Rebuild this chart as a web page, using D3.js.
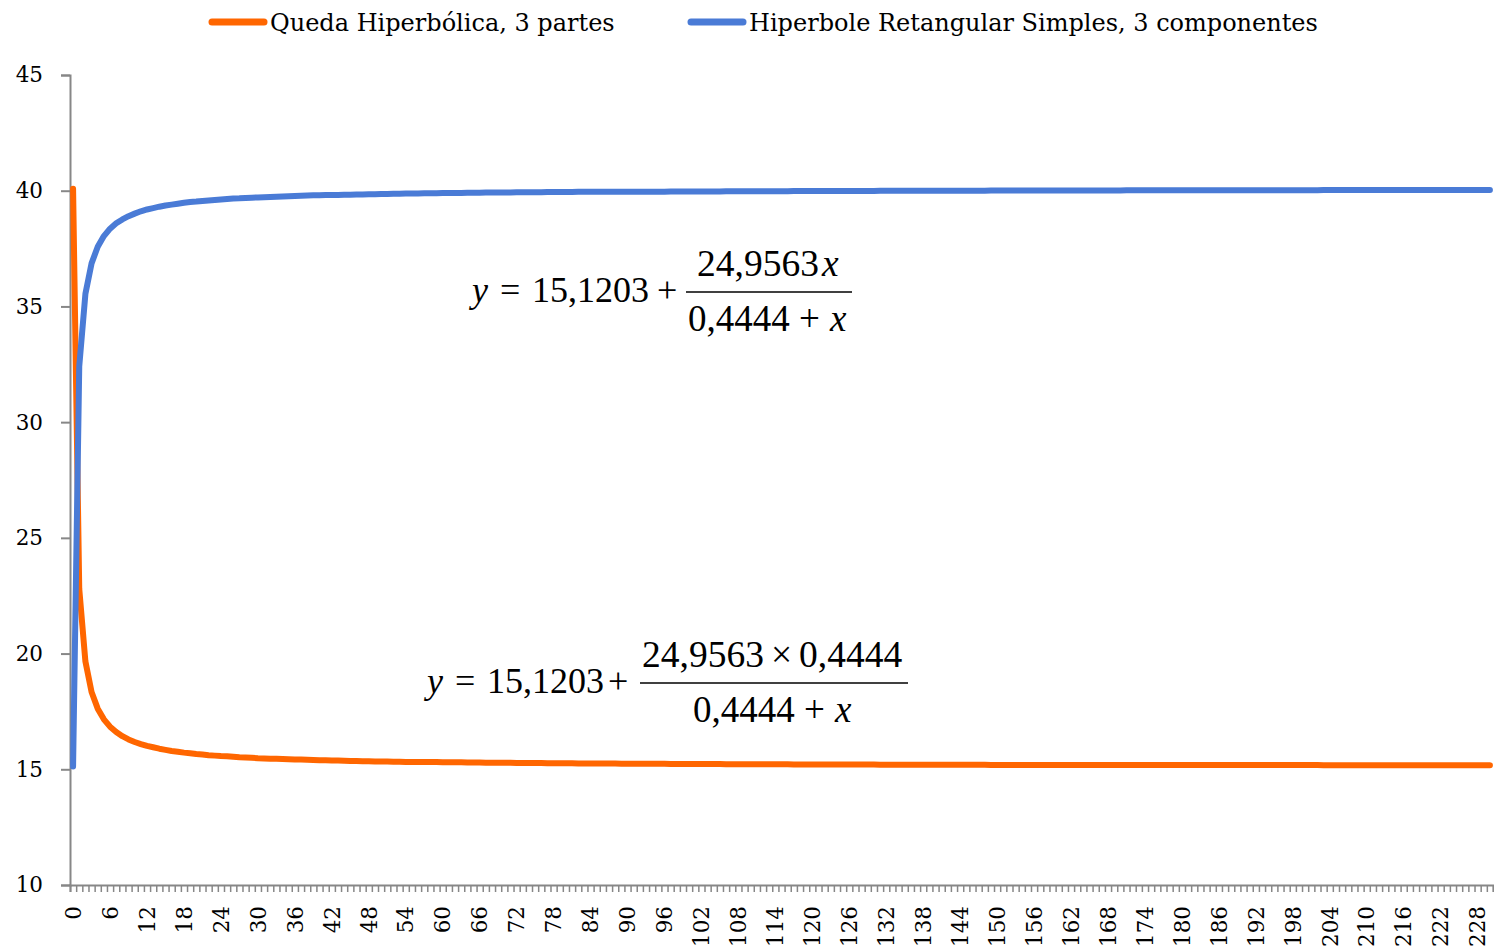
<!DOCTYPE html>
<html>
<head>
<meta charset="utf-8">
<script src="https://cdn.jsdelivr.net/npm/d3@7"></script>
<style>
  body { margin: 0; background: #fff; }
  svg { display: block; }
</style>
</head>
<body>
<svg id="graph" width="1494" height="950"></svg>
<script>
// categories 0..230
const categories = d3.range(231);

// Queda Hiperbólica
const quedaValues = [
  40.08, 22.80, 19.66, 18.34, 17.62, 17.16, 16.84, 16.61, 16.43, 16.29,
  16.18, 16.09, 16.01, 15.95, 15.89, 15.84, 15.79, 15.76, 15.72, 15.69,
  15.66, 15.64, 15.61, 15.59, 15.57, 15.56, 15.54, 15.52, 15.51, 15.50,
  15.48, 15.47, 15.46, 15.45, 15.44, 15.43, 15.42, 15.42, 15.41, 15.40,
  15.39, 15.39, 15.38, 15.38, 15.37, 15.36, 15.36, 15.35, 15.35, 15.34,
  15.34, 15.34, 15.33, 15.33, 15.32, 15.32, 15.32, 15.31, 15.31, 15.31,
  15.30, 15.30, 15.30, 15.30, 15.29, 15.29, 15.29, 15.28, 15.28, 15.28,
  15.28, 15.28, 15.27, 15.27, 15.27, 15.27, 15.27, 15.26, 15.26, 15.26,
  15.26, 15.26, 15.25, 15.25, 15.25, 15.25, 15.25, 15.25, 15.25, 15.24,
  15.24, 15.24, 15.24, 15.24, 15.24, 15.24, 15.24, 15.23, 15.23, 15.23,
  15.23, 15.23, 15.23, 15.23, 15.23, 15.23, 15.22, 15.22, 15.22, 15.22,
  15.22, 15.22, 15.22, 15.22, 15.22, 15.22, 15.22, 15.21, 15.21, 15.21,
  15.21, 15.21, 15.21, 15.21, 15.21, 15.21, 15.21, 15.21, 15.21, 15.21,
  15.21, 15.20, 15.20, 15.20, 15.20, 15.20, 15.20, 15.20, 15.20, 15.20,
  15.20, 15.20, 15.20, 15.20, 15.20, 15.20, 15.20, 15.20, 15.20, 15.19,
  15.19, 15.19, 15.19, 15.19, 15.19, 15.19, 15.19, 15.19, 15.19, 15.19,
  15.19, 15.19, 15.19, 15.19, 15.19, 15.19, 15.19, 15.19, 15.19, 15.19,
  15.19, 15.18, 15.18, 15.18, 15.18, 15.18, 15.18, 15.18, 15.18, 15.18,
  15.18, 15.18, 15.18, 15.18, 15.18, 15.18, 15.18, 15.18, 15.18, 15.18,
  15.18, 15.18, 15.18, 15.18, 15.18, 15.18, 15.18, 15.18, 15.18, 15.18,
  15.18, 15.18, 15.18, 15.17, 15.17, 15.17, 15.17, 15.17, 15.17, 15.17,
  15.17, 15.17, 15.17, 15.17, 15.17, 15.17, 15.17, 15.17, 15.17, 15.17,
  15.17, 15.17, 15.17, 15.17, 15.17, 15.17, 15.17, 15.17, 15.17, 15.17,
  15.17
];

// Hiperbole Retangular Simples
const hiperboleValues = [
  15.12, 32.40, 35.54, 36.86, 37.58, 38.04, 38.36, 38.59, 38.76, 38.90,
  39.01, 39.11, 39.19, 39.25, 39.31, 39.36, 39.40, 39.44, 39.48, 39.51,
  39.53, 39.56, 39.58, 39.60, 39.62, 39.64, 39.66, 39.67, 39.69, 39.70,
  39.71, 39.72, 39.73, 39.74, 39.75, 39.76, 39.77, 39.78, 39.79, 39.80,
  39.80, 39.81, 39.82, 39.82, 39.83, 39.83, 39.84, 39.84, 39.85, 39.85,
  39.86, 39.86, 39.87, 39.87, 39.88, 39.88, 39.88, 39.89, 39.89, 39.89,
  39.90, 39.90, 39.90, 39.90, 39.91, 39.91, 39.91, 39.92, 39.92, 39.92,
  39.92, 39.92, 39.93, 39.93, 39.93, 39.93, 39.93, 39.94, 39.94, 39.94,
  39.94, 39.94, 39.95, 39.95, 39.95, 39.95, 39.95, 39.95, 39.95, 39.96,
  39.96, 39.96, 39.96, 39.96, 39.96, 39.96, 39.96, 39.97, 39.97, 39.97,
  39.97, 39.97, 39.97, 39.97, 39.97, 39.97, 39.98, 39.98, 39.98, 39.98,
  39.98, 39.98, 39.98, 39.98, 39.98, 39.98, 39.98, 39.99, 39.99, 39.99,
  39.99, 39.99, 39.99, 39.99, 39.99, 39.99, 39.99, 39.99, 39.99, 39.99,
  39.99, 40.00, 40.00, 40.00, 40.00, 40.00, 40.00, 40.00, 40.00, 40.00,
  40.00, 40.00, 40.00, 40.00, 40.00, 40.00, 40.00, 40.00, 40.00, 40.01,
  40.01, 40.01, 40.01, 40.01, 40.01, 40.01, 40.01, 40.01, 40.01, 40.01,
  40.01, 40.01, 40.01, 40.01, 40.01, 40.01, 40.01, 40.01, 40.01, 40.01,
  40.01, 40.02, 40.02, 40.02, 40.02, 40.02, 40.02, 40.02, 40.02, 40.02,
  40.02, 40.02, 40.02, 40.02, 40.02, 40.02, 40.02, 40.02, 40.02, 40.02,
  40.02, 40.02, 40.02, 40.02, 40.02, 40.02, 40.02, 40.02, 40.02, 40.02,
  40.02, 40.02, 40.02, 40.03, 40.03, 40.03, 40.03, 40.03, 40.03, 40.03,
  40.03, 40.03, 40.03, 40.03, 40.03, 40.03, 40.03, 40.03, 40.03, 40.03,
  40.03, 40.03, 40.03, 40.03, 40.03, 40.03, 40.03, 40.03, 40.03, 40.03,
  40.03
];

const seriesNames = ["Queda Hiperbólica, 3 partes", "Hiperbole Retangular Simples, 3 componentes"];
const seriesColors = ["#ff6600", "#4a7bd6"];
const yTicks = [10, 15, 20, 25, 30, 35, 40, 45];

const svg = d3.select("#graph");
const axisColor = "#878787";
const labelFont = "'DejaVu Serif', serif";
const mathFont = "'Liberation Serif', 'Times New Roman', serif";

const margin = { top: 75, right: 1, bottom: 65, left: 70 },
      width = 1494, height = 950,
      plotRight = width - margin.right,
      plotBottom = height - margin.bottom;

// Scales
const x = d3.scaleBand()
    .domain(categories)
    .range([margin.left, plotRight])
    .padding(0);

const xEdges = d3.scaleLinear()
    .domain([0, categories.length])
    .range([margin.left, plotRight]);

const y = d3.scaleLinear()
    .domain([10, 45])
    .range([plotBottom, margin.top]);

// Y axis
const yAxis = svg.append("g")
    .attr("transform", `translate(${margin.left},0)`)
    .call(d3.axisLeft(y).tickValues(yTicks).tickSize(9).tickPadding(18));
yAxis.select(".domain").attr("stroke", axisColor).attr("stroke-width", 2);
yAxis.selectAll(".tick line").attr("stroke", axisColor).attr("stroke-width", 2);
yAxis.selectAll(".tick text")
    .attr("fill", "#000")
    .style("font-family", labelFont)
    .style("font-size", "21.5px");

// X axis tick marks at category edges
const xMinor = svg.append("g")
    .attr("transform", `translate(0,${plotBottom})`)
    .call(d3.axisBottom(xEdges)
        .tickValues(d3.range(categories.length + 1))
        .tickSize(7)
        .tickFormat(""));
xMinor.select(".domain").attr("stroke", axisColor).attr("stroke-width", 2);
xMinor.selectAll(".tick line").attr("stroke", axisColor).attr("stroke-width", 1.5);

// X axis labels, every 6th category
const xAxis = svg.append("g")
    .attr("transform", `translate(0,${plotBottom})`)
    .call(d3.axisBottom(x)
        .tickValues(categories.filter(d => d % 6 === 0))
        .tickSize(0)
        .tickPadding(0));
xAxis.select(".domain").remove();
xAxis.selectAll(".tick text")
    .attr("fill", "#000")
    .style("font-family", labelFont)
    .style("font-size", "21.5px")
    .attr("text-anchor", "end")
    .attr("transform", "rotate(-90)")
    .attr("x", -21)
    .attr("y", 0)
    .attr("dy", "0.36em");

// Lines
const line = d3.line()
    .x((d, i) => x(categories[i]) + x.bandwidth() / 2)
    .y(d => y(d));

[quedaValues, hiperboleValues].forEach((vals, k) => {
    svg.append("path")
        .datum(vals)
        .attr("fill", "none")
        .attr("stroke", seriesColors[k])
        .attr("stroke-width", 6)
        .attr("stroke-linejoin", "round")
        .attr("stroke-linecap", "round")
        .attr("d", line);
});

// Legend
const legendX = [212, 691];
seriesNames.forEach((name, k) => {
    const g = svg.append("g").attr("transform", `translate(${legendX[k]},22)`);
    g.append("line")
        .attr("x1", 0).attr("x2", 52)
        .attr("stroke", seriesColors[k])
        .attr("stroke-width", 7)
        .attr("stroke-linecap", "round");
    g.append("text")
        .attr("x", 58)
        .attr("y", 8.5)
        .style("font-family", labelFont)
        .style("font-size", "24px")
        .text(name);
});

// Equations
function equation(parts, bar, pieces) {
    const g = svg.append("g")
        .style("font-family", mathFont)
        .style("font-size", "36px");
    parts.concat(pieces).forEach(p => {
        g.append("text")
            .attr("x", p.x).attr("y", p.y)
            .style("font-style", p.italic ? "italic" : "normal")
            .style("font-size", p.size ? p.size + "px" : null)
            .text(p.t);
    });
    g.append("line")
        .attr("x1", bar.x1).attr("x2", bar.x2)
        .attr("y1", bar.y).attr("y2", bar.y)
        .attr("stroke", "#000").attr("stroke-width", 1.6);
}

equation(
    [
        { t: "y", x: 472, y: 302, italic: true },
        { t: "=", x: 500, y: 302 },
        { t: "15,1203", x: 532, y: 302 },
        { t: "+", x: 657, y: 302 }
    ],
    { x1: 686, x2: 852, y: 292 },
    [
        { t: "24,9563", x: 697, y: 276, size: 37.5 },
        { t: "x", x: 822, y: 276, italic: true, size: 37.5 },
        { t: "0,4444", x: 688, y: 331, size: 37 },
        { t: "+", x: 799, y: 331, size: 37 },
        { t: "x", x: 830, y: 331, italic: true, size: 37 }
    ]
);

equation(
    [
        { t: "y", x: 427, y: 693, italic: true },
        { t: "=", x: 455, y: 693 },
        { t: "15,1203", x: 487, y: 693 },
        { t: "+", x: 608, y: 693 }
    ],
    { x1: 640, x2: 908, y: 683 },
    [
        { t: "24,9563", x: 642, y: 667, size: 37.5 },
        { t: "\u00d7", x: 771, y: 667, size: 37.5 },
        { t: "0,4444", x: 799, y: 667, size: 37.5 },
        { t: "0,4444", x: 693, y: 722, size: 37 },
        { t: "+", x: 804, y: 722, size: 37 },
        { t: "x", x: 835, y: 722, italic: true, size: 37 }
    ]
);
</script>
</body>
</html>
